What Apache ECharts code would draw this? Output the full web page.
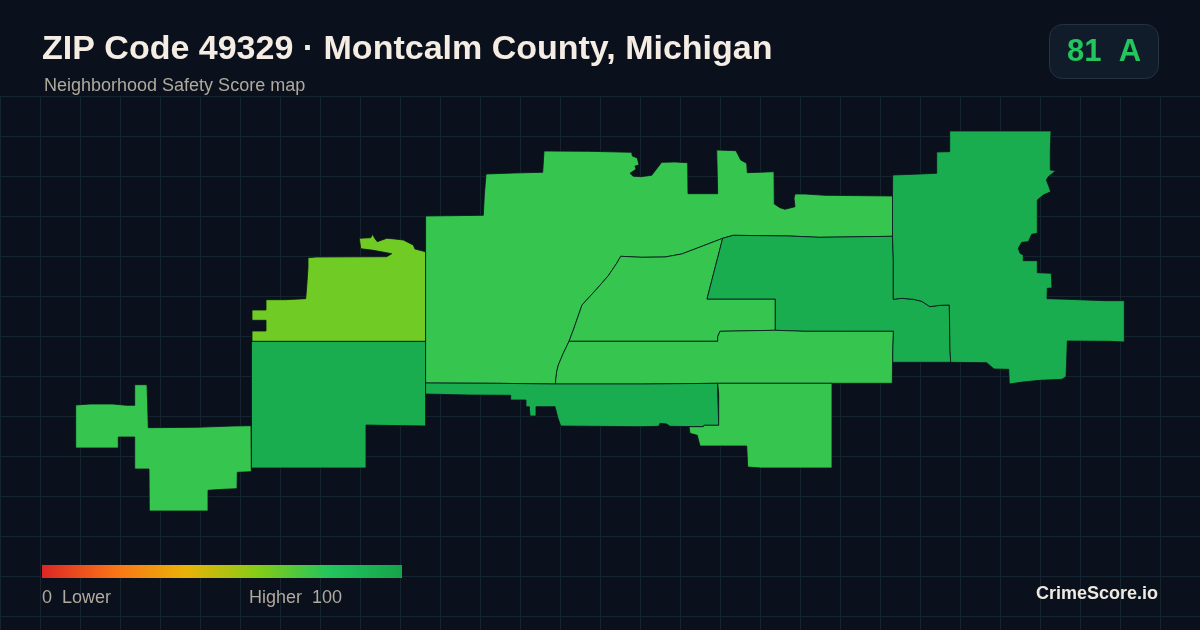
<!DOCTYPE html>
<html>
<head>
<meta charset="utf-8">
<style>html,body{margin:0;padding:0;background:#0a111c}#c{width:1200px;height:630px}</style>
<script src="https://cdn.jsdelivr.net/npm/echarts@6/dist/echarts.min.js"></script>
</head>
<body>
<div id="c"></div>
<script>
var titleText = "ZIP Code 49329 \u00b7 Montcalm County, Michigan";
var subtitleText = "Neighborhood Safety Score map";
var badgeText = "81  A";
var brandText = "CrimeScore.io";
var legendLowText = "0  Lower";
var legendHighText = "Higher  100";
var legendColors = ["#dc2626", "#f97316", "#eab308", "#84cc16", "#22c55e", "#16a34a"];

var areaNames = ["Area A","Area B","Area C","Area D","Area E","Area F","Area G","Area H","Area I","Area J"];
var areaScores = [76, 94, 64, 76, 76, 94, 94, 76, 94, 76];

var outlineA = [[75.7,405],[90,404],[112.7,404],[126.7,405.3],[134.7,405.3],[134.7,384.7],[147,384.7],[147.7,405.7],[148.3,427.7],[196.7,427.3],[233.3,426],[251,425.7],[251.3,471.7],[237.3,472.3],[237,488.7],[223.3,489.3],[208,490.3],[208,511],[149.3,511],[149,469],[134.7,469],[134.7,437],[118.3,437],[118.3,448],[75.7,448]];
var outlineB = [[251.5,341.3],[425.6,341.3],[425.6,426],[380,425.3],[366,425],[366,468],[251.5,468]];
var outlineC = [[252,341.3],[252,331],[266,331],[266,320.3],[252,320.3],[252,310],[266,310],[266,299.7],[285,299.7],[285,299],[305.7,298.7],[306.7,286.7],[308,267.3],[308,257.7],[316.7,257],[386.7,256.7],[391.7,253.7],[373.3,250.3],[360.7,248.7],[359.3,238.3],[370.7,237.7],[372.7,234.3],[374.7,238.3],[377.3,241.7],[386.7,238.3],[395,239],[403.3,240],[413.3,245],[415,249],[425.6,251.7],[425.6,341.3]];
var outlineD = [[425.6,216],[483.3,215.3],[484.3,195.7],[486,174],[514,173],[542.7,172.3],[544,151],[588.3,151.3],[631.7,152.3],[632.3,156],[637.3,158],[639,165],[635,166],[636,169.3],[630,173.3],[633.3,176.3],[641,176.7],[651.7,175.3],[661.7,162.3],[675,162],[687.7,162.7],[688,193.7],[717.7,193.7],[716.7,150],[736,150.7],[740.7,160],[746.7,163.3],[747.3,172.7],[774,171.7],[774.3,204],[780,207.7],[785,209.3],[795,206.7],[794,198.3],[795,194],[805,194],[825,195.3],[892.5,196],[892.5,236.3],[864,236.7],[819.3,237.3],[789,236],[733.3,235.3],[722.7,238.3],[700,247],[681.7,254],[665,257],[641.7,257.3],[620.7,256.3],[616.7,263.3],[608.3,275.7],[596.7,289],[582,305],[573.3,330],[569,341.3],[563.3,353.3],[558.3,365],[556.7,371.7],[555.3,384],[496.7,383.3],[425.6,383]];
var outlineE = [[620.7,256.3],[641.7,257.3],[665,257],[681.7,254],[700,247],[722.7,238.3],[709.3,290],[707,299],[775.3,299],[775.3,320],[775.3,330.3],[720,331.3],[717.7,336.7],[717.7,341.3],[640,341.3],[569,341.3],[573.3,330],[582,305],[596.7,289],[608.3,275.7],[616.7,263.3]];
var outlineF = [[722.7,238.3],[733.3,235.3],[789,236],[819.3,237.3],[864,236.7],[892.5,236.3],[893.3,260],[893.3,299.3],[901.7,298.3],[913.3,299.3],[921.7,301.3],[930,306.7],[940,305.3],[949.3,305],[950,350],[950.7,362.3],[892.7,362.3],[892.7,346.7],[893.3,331.3],[804.3,331.3],[775.3,330.3],[775.3,320],[775.3,299],[707,299],[709.3,290]];
var outlineG = [[892.7,175],[913.3,174.3],[936.7,173.3],[936.7,152],[949.7,151.7],[949.7,131],[1051,131],[1050.3,150],[1050.3,170],[1055.7,170.7],[1048.3,176.7],[1046.3,180],[1048.3,185],[1050.7,191.7],[1043.3,195],[1037.3,200],[1037.3,233.3],[1031.7,234.3],[1028.3,241.7],[1021.7,242.3],[1018.3,248.3],[1020,253.3],[1023.3,255],[1023.3,260.7],[1037.3,260.7],[1037.3,272.7],[1051.3,273.3],[1052,288],[1047.3,288.3],[1047,298.7],[1066.7,299.3],[1105,300.7],[1124.3,300.7],[1124.3,342],[1110,341.3],[1067.3,341],[1066.7,360],[1066,376.7],[1062,379.3],[1040,380.3],[1022.7,382],[1009.3,384],[1008.7,369.3],[994,369],[986.7,362.7],[950.7,362.3],[950,350],[949.3,305],[940,305.3],[930,306.7],[921.7,301.3],[913.3,299.3],[901.7,298.3],[893.3,299.3],[893.3,260],[892.5,236.3],[892.5,196]];
var outlineH = [[569,341.3],[640,341.3],[717.7,341.3],[717.7,336.7],[720,331.3],[775.3,330.3],[804.3,331.3],[893.3,331.3],[892.7,346.7],[892.3,383.3],[832,383.3],[717.7,383.3],[642.7,384],[555.3,384],[556.7,371.7],[558.3,365],[563.3,353.3]];
var outlineI = [[425.6,383],[496.7,383.3],[555.3,384],[642.7,384],[717.7,383.3],[717.7,394],[718.7,394],[718.7,425.3],[704,425.3],[703.3,426.7],[670,426.3],[666.7,424],[660,423.3],[658.7,426.3],[640,426.7],[560.7,426],[557.7,417.3],[555,406.7],[536,406.7],[536,416],[530,416],[529.3,406.7],[526,406.7],[526,400],[510.7,400],[510.7,395.3],[468.3,395],[425.6,394]];
var outlineJ = [[717.7,383.3],[832,383.3],[832,468],[760.7,468],[747.7,467],[746.7,446],[700,446],[697.3,435.3],[690,433.3],[689,426.7],[703.3,426.7],[704,425.3],[718.7,425.3],[718.7,394],[717.7,394]];
var areaOutlines = [outlineA,outlineB,outlineC,outlineD,outlineE,outlineF,outlineG,outlineH,outlineI,outlineJ];

var geoJson = {type:"FeatureCollection",features:areaNames.map(function(n,i){
  var ring = areaOutlines[i].concat([areaOutlines[i][0]]);
  return {type:"Feature",properties:{name:n},geometry:{type:"Polygon",coordinates:[ring]}};
})};
echarts.registerMap("zip49329", geoJson);

var chart = echarts.init(document.getElementById("c"), null, {renderer:"canvas"});
var ident = function(p){return [p[0],p[1]];};
var gridColor = "#16242f";
var textFont = '"Liberation Sans", Arial, sans-serif';
var mutedText = "#b0a99d";
var legendStops = legendColors.map(function(c,i){return {offset:i/(legendColors.length-1),color:c};});

chart.setOption({
  backgroundColor:"#0a111c",
  animation:false,
  grid:{left:0,right:0,top:96,bottom:0,containLabel:false},
  xAxis:{type:"value",min:0,max:1200,interval:40,axisLine:{show:false},axisTick:{show:false},axisLabel:{show:false},
    splitLine:{show:true,showMinLine:true,lineStyle:{color:gridColor,width:1}}},
  yAxis:{type:"value",min:0,max:534,interval:40,inverse:true,axisLine:{show:false},axisTick:{show:false},axisLabel:{show:false},
    splitLine:{show:true,showMinLine:true,lineStyle:{color:gridColor,width:1}}},
  visualMap:{type:"continuous",show:false,min:0,max:100,seriesIndex:0,inRange:{color:legendColors}},
  title:[
    {text:titleText,left:42,top:33,padding:0,textStyle:{color:"#f5ede3",fontSize:34,fontWeight:"bold",fontFamily:textFont}},
    {text:subtitleText,left:44,top:77,padding:0,textStyle:{color:mutedText,fontSize:18,fontWeight:"normal",fontFamily:textFont}},
    {text:legendLowText,left:42,top:589,padding:0,textStyle:{color:mutedText,fontSize:18,fontWeight:"normal",fontFamily:textFont}},
    {text:legendHighText,left:249,top:589,padding:0,textStyle:{color:mutedText,fontSize:18,fontWeight:"normal",fontFamily:textFont}},
    {text:brandText,right:42,top:585,padding:0,textStyle:{color:"#eeeae3",fontSize:18,fontWeight:"bold",fontFamily:textFont}}
  ],
  graphic:[
    {type:"rect",silent:true,z:5,shape:{x:1049.5,y:24.5,width:109,height:54,r:13},style:{fill:"#111c2a",stroke:"#263241",lineWidth:1}},
    {type:"text",silent:true,z:6,x:1104,y:52,style:{text:badgeText,fill:"#22c55e",font:"bold 31px "+textFont,textAlign:"center",textVerticalAlign:"middle"}},
    {type:"rect",silent:true,z:5,shape:{x:42,y:565,width:360,height:13},style:{fill:new echarts.graphic.LinearGradient(0,0,1,0,legendStops)}}
  ],
  series:[{
    type:"map",map:"zip49329",projection:{project:ident,unproject:ident},
    left:75.7,top:131,right:75.7,bottom:119,
    roam:false,selectedMode:false,silent:true,
    label:{show:false},emphasis:{disabled:true},
    itemStyle:{borderColor:"#0a111c",borderWidth:0.8,areaColor:"#22c55e"},
    data:areaNames.map(function(n,i){return {name:n,value:areaScores[i]};})
  }]
});
</script>
</body>
</html>
